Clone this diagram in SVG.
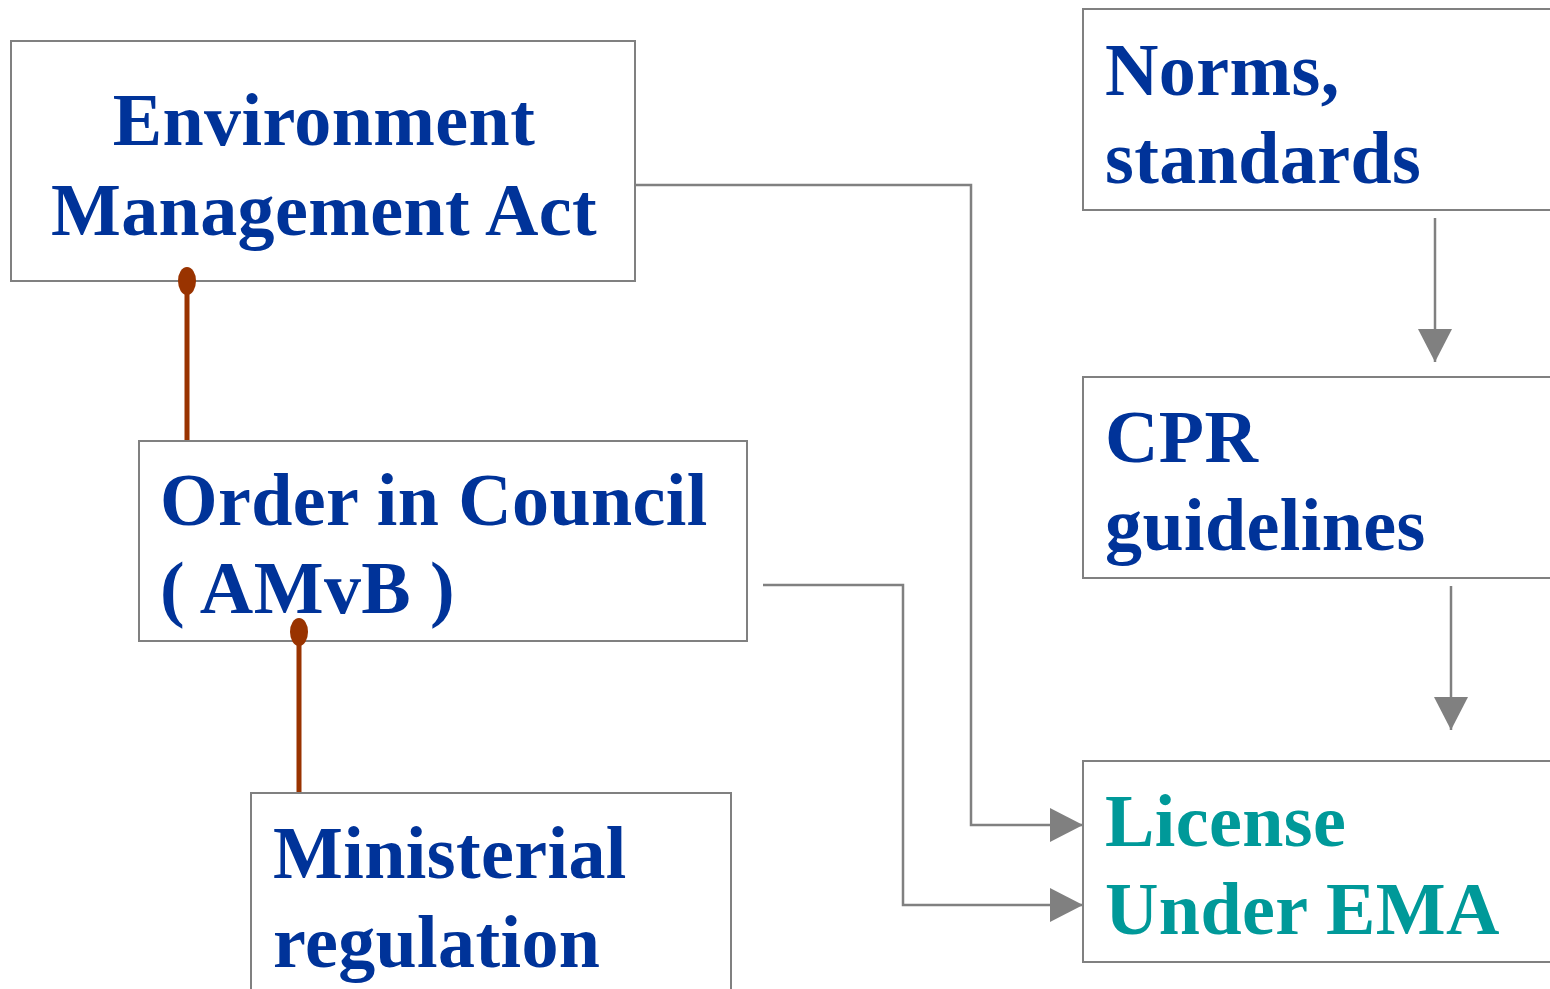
<svg xmlns="http://www.w3.org/2000/svg" width="1550" height="989" viewBox="0 0 1550 989">
<style>
.box{fill:#fff;stroke:#808080;stroke-width:2}
.t{font-family:"Liberation Serif","Times New Roman",serif;font-weight:bold;font-size:74px;fill:#003399;letter-spacing:0.4px}
.teal{fill:#009999}
.conn{fill:none;stroke:#808080;stroke-width:2.5}
.brown{stroke:#993300;stroke-width:5;fill:none}
</style>
<defs>
<marker id="arr" markerUnits="userSpaceOnUse" markerWidth="34" markerHeight="34" refX="33" refY="17" orient="auto">
<path d="M0,0 L33,17 L0,34 Z" fill="#808080"/>
</marker>
</defs>
<rect width="1550" height="989" fill="#fff"/>
<g id="connectors">
<polyline class="conn" points="635,185 971,185 971,825 1083,825" marker-end="url(#arr)"/>
<polyline class="conn" points="763,585 903,585 903,905 1083,905" marker-end="url(#arr)"/>
<line class="conn" x1="1435" y1="218" x2="1435" y2="362" marker-end="url(#arr)"/>
<line class="conn" x1="1451" y1="586" x2="1451" y2="730" marker-end="url(#arr)"/>
<line class="brown" x1="187" y1="281" x2="187" y2="441"/>
<line class="brown" x1="299" y1="632" x2="299" y2="793"/>
</g>
<g id="ema">
<rect class="box" x="11" y="41" width="624" height="240"/>
<text class="t" x="324" y="145" text-anchor="middle">Environment</text>
<text class="t" x="324" y="235" text-anchor="middle">Management Act</text>
</g>
<g id="norms">
<rect class="box" x="1083" y="9" width="480" height="201"/>
<text class="t" x="1105" y="95">Norms,</text>
<text class="t" x="1105" y="183">standards</text>
</g>
<g id="cpr">
<rect class="box" x="1083" y="377" width="480" height="201"/>
<text class="t" x="1105" y="462">CPR</text>
<text class="t" x="1105" y="550">guidelines</text>
</g>
<g id="license">
<rect class="box" x="1083" y="761" width="480" height="201"/>
<text class="t teal" x="1105" y="846">License</text>
<text class="t teal" x="1105" y="934">Under EMA</text>
</g>
<g id="order">
<rect class="box" x="139" y="441" width="608" height="200"/>
<text class="t" x="160" y="525">Order in Council</text>
<text class="t" x="160" y="613" letter-spacing="1px">( AMvB )</text>
</g>
<g id="ministerial">
<rect class="box" x="251" y="793" width="480" height="220"/>
<text class="t" x="273" y="878">Ministerial</text>
<text class="t" x="273" y="967">regulation</text>
</g>
<g id="dots">
<ellipse cx="187" cy="281" rx="9" ry="14" fill="#993300"/>
<ellipse cx="299" cy="632" rx="9" ry="14" fill="#993300"/>
</g>
</svg>
